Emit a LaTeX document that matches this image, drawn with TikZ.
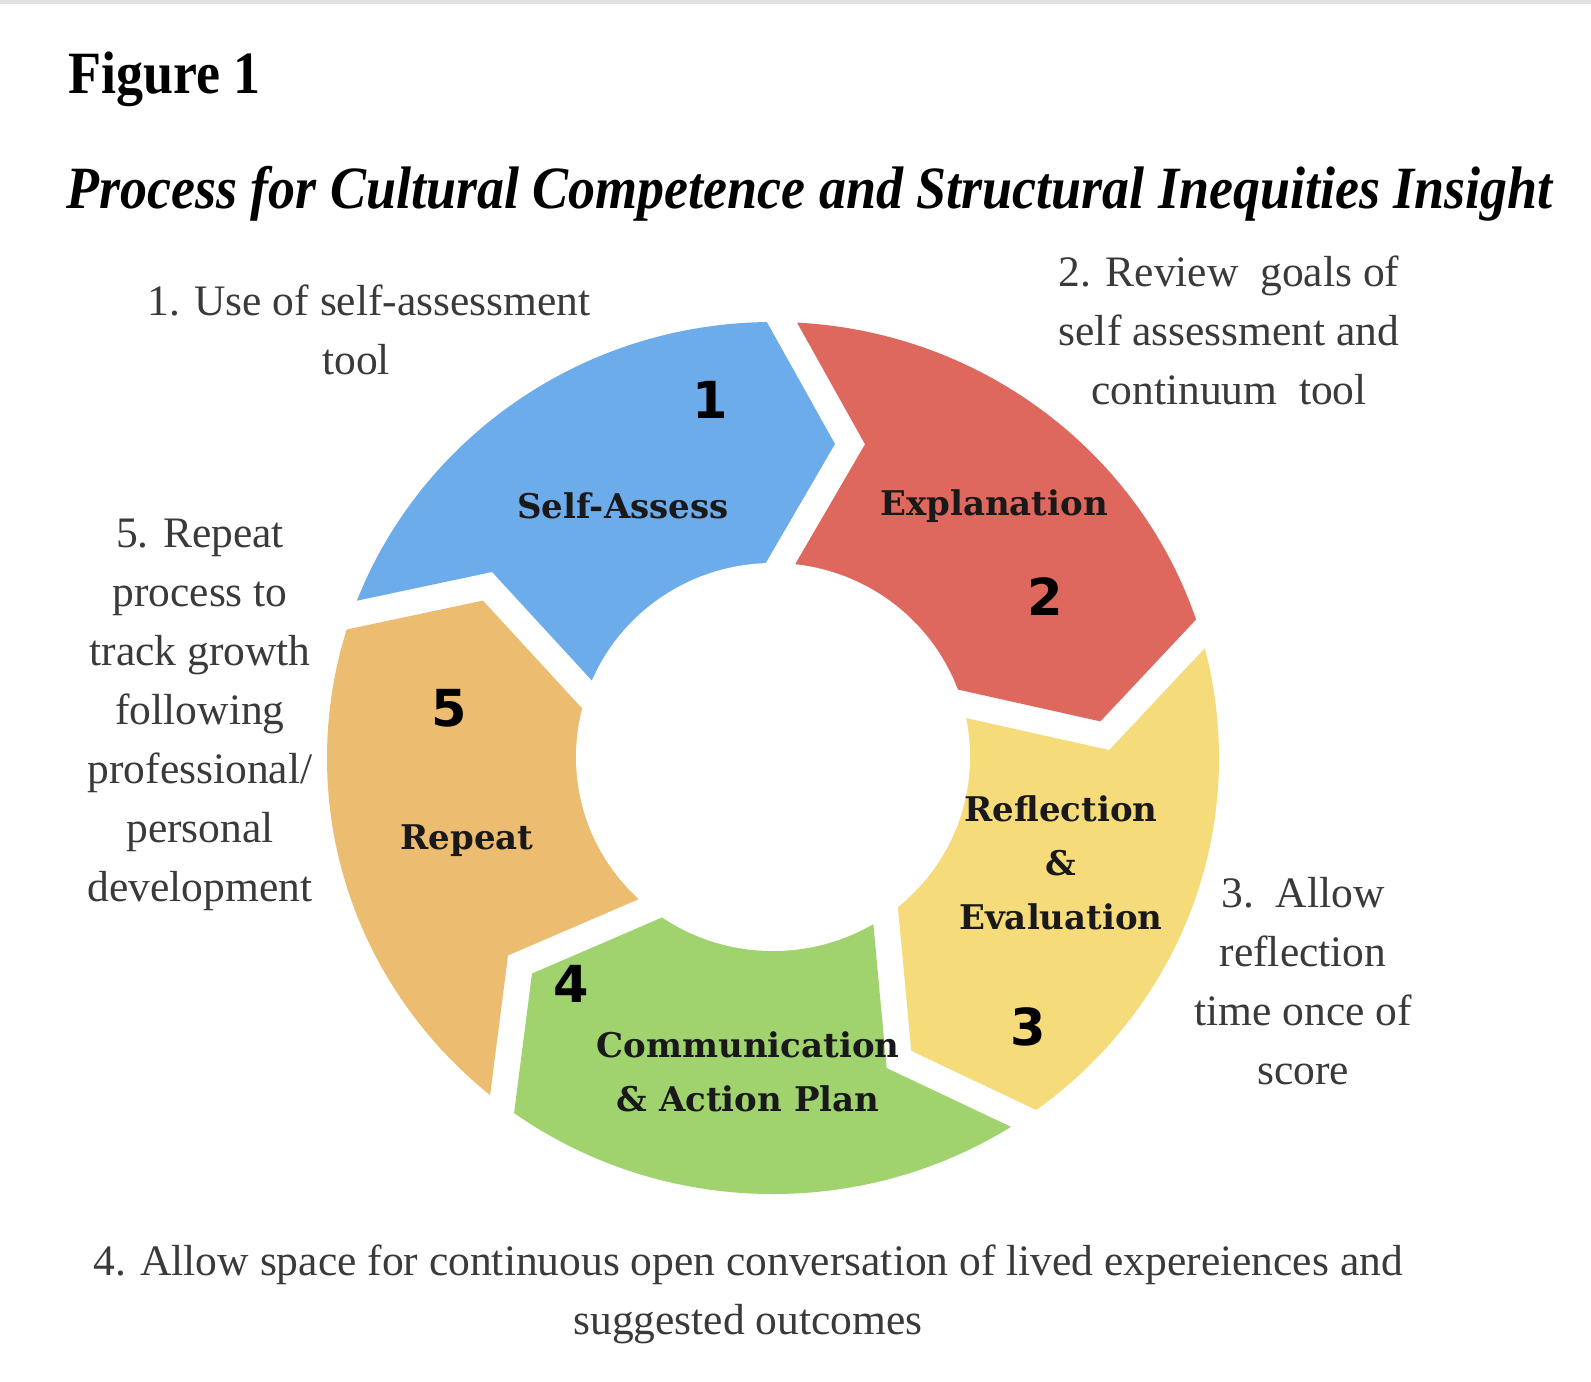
\documentclass[tikz,border=0pt]{standalone}
\usepackage{fontspec}
\setmainfont{Liberation Serif}
\newfontfamily\titlefont[FakeStretch=0.9]{Liberation Serif}
\newfontfamily\labelfont{DejaVu Serif}
\newfontfamily\numfont{DejaVu Sans}
\usetikzlibrary{calc}
\definecolor{segblue}{RGB}{108,172,235}
\definecolor{segred}{RGB}{222,104,94}
\definecolor{segyellow}{RGB}{246,219,122}
\definecolor{seggreen}{RGB}{160,210,110}
\definecolor{segorange}{RGB}{236,189,112}
\definecolor{bodytext}{RGB}{58,58,58}
\definecolor{labeltext}{RGB}{25,25,25}
\definecolor{topband}{RGB}{225,225,225}
\newcommand{\mkboundary}[4]{%
  \coordinate (#1M) at (#2,#3);
  \coordinate (#1Li) at ($(#1M)+({#4}:-217.8)+({#4+90}:-70.2)$);
  \coordinate (#1Lt) at ($(#1M)+({#4+90}:54)$);
  \coordinate (#1Lo) at ($(#1M)+({#4}:217.8)+({#4+90}:-70.2)$);
  \coordinate (#1Ti) at ($(#1M)+({#4}:-217.8)+({#4+90}:-40.2)$);
  \coordinate (#1Tt) at ($(#1M)+({#4+90}:84)$);
  \coordinate (#1To) at ($(#1M)+({#4}:217.8)+({#4+90}:-40.2)$);
}
\begin{document}
\begin{tikzpicture}[x=1pt,y=-1pt,
  seglabel/.style={font=\labelfont\bfseries\fontsize{34}{54}\selectfont, text=labeltext, align=center, inner sep=0pt},
  segnum/.style={font=\numfont\bfseries\fontsize{51}{51}\selectfont, text=black, inner sep=0pt},
  note/.style={font=\fontsize{43.5}{59}\selectfont, text=bodytext, align=center, inner sep=0pt},
  titletext/.style={font=\titlefont\bfseries\fontsize{60}{60}\selectfont, text=black, inner sep=0pt, anchor=base west}
]
\useasboundingbox (0,0) rectangle (1591,1382);
\fill[white] (0,0) rectangle (1591,1382);
\fill[topband] (0,0) rectangle (1591,4);

% title
\node[titletext] (fig) at (68,93) {Figure 1};
\node[titletext, font=\titlefont\bfseries\itshape\fontsize{60}{60}\selectfont] (title) at (66,208) {Process for Cultural Competence and Structural Inequities Insight};

% geometry
\coordinate (C) at (772,752);
\mkboundary{A}{781}{443.5}{270.5}
\mkboundary{B}{1084.5}{669.75}{342.9}
\mkboundary{Cc}{955.5}{1019.9}{55}
\mkboundary{D}{575.1}{1006}{127}
\mkboundary{E}{466.5}{652}{197.7}

\begin{scope}
  \clip (773,758) ellipse [x radius=446, y radius=436];
  \fill[segblue]   (ETi) -- (ETt) -- (ETo) -- ($(C)+(234:700)$) -- (ALo) -- (ALt) -- (ALi) -- cycle;
  \fill[segred]    (ATi) -- (ATt) -- (ATo) -- ($(C)+(306.7:700)$) -- (BLo) -- (BLt) -- (BLi) -- cycle;
  \fill[segyellow] (BTi) -- (BTt) -- (BTo) -- ($(C)+(19:700)$) -- (CcLo) -- (CcLt) -- (CcLi) -- cycle;
  \fill[seggreen]  (CcTi) -- (CcTt) -- (CcTo) -- ($(C)+(91:700)$) -- (DLo) -- (DLt) -- (DLi) -- cycle;
  \fill[segorange] (DTi) -- (DTt) -- (DTo) -- ($(C)+(162:700)$) -- (ELo) -- (ELt) -- (ELi) -- cycle;
\end{scope}
\fill[white] (773,757) ellipse [x radius=197, y radius=194];

% segment labels
\node[seglabel] (l1) at (623,506) {Self-Assess};
\node[seglabel] (l2) at (994,506) {Explanation};
\node[seglabel] (l3) at (1061,863) {Reflection\\\&\\Evaluation};
\node[seglabel] (l4) at (748,1072) {Communication\\\& Action Plan};
\node[seglabel] (l5) at (467,841) {Repeat};

% numbers
\node[segnum] (n1) at (710,400) {1};
\node[segnum] (n2) at (1045,597) {2};
\node[segnum] (n3) at (1028,1027) {3};
\node[segnum] (n4) at (571,984) {4};
\node[segnum] (n5) at (449,708) {5};

% notes
\node[note] (t1) at (369,330) {1. Use of self-assessment\\tool\hspace*{26pt}};
\node[note] (t2) at (1229,330) {2. Review\ \ goals of\\self assessment and\\continuum\ \ tool};
\node[note] (t3) at (1303,981) {3.\ \ Allow\\reflection\\time once of\\score};
\node[note] (t4) at (748,1294) {4. Allow space for continuous open conversation of lived expereiences and\\suggested outcomes};
\node[note] (t5) at (200,715) {5. Repeat\\process to\\track growth\\following\\professional/\\personal\\development};
\end{tikzpicture}
\end{document}
